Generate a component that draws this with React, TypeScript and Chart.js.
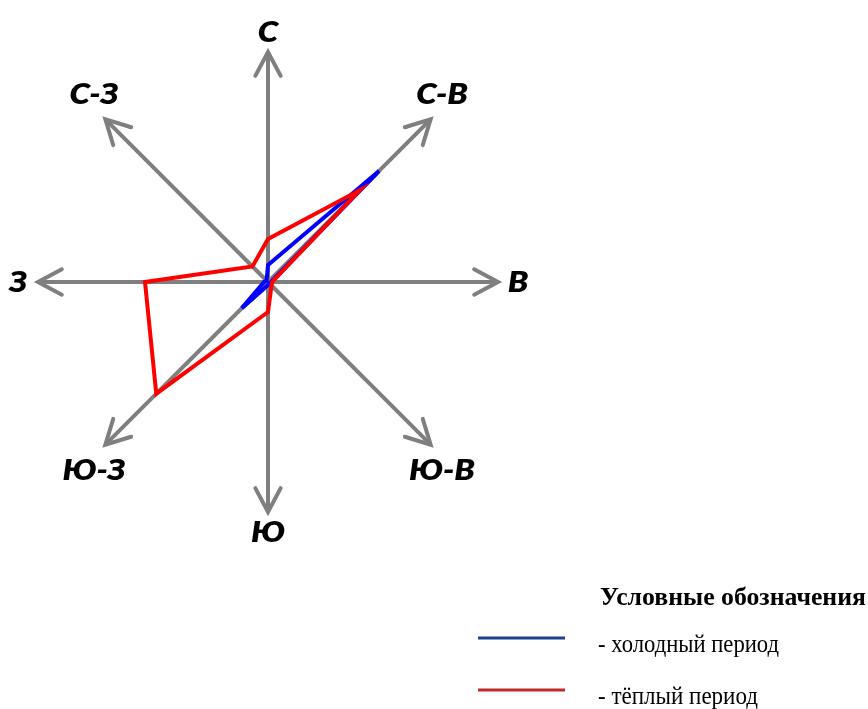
import React, { useEffect, useRef } from "react";
import { Chart, registerables } from "chart.js";

Chart.register(...registerables);

const directions = ["С", "С-В", "В", "Ю-В", "Ю", "Ю-З", "З", "С-З"];
const coldPeriod = [1.7, 15.7, 0.3, 0.2, 0.3, 3.7, 0.4, 0.2];
const warmPeriod = [4.3, 13.0, 0.4, 0.5, 3.0, 15.8, 12.3, 2.2];
const axisMax = 23;
const seriesNames = ["холодный период", "тёплый период"];
const legendTitle = "Условные обозначения";

const AXIS_COLOR = "#7f7f7f";

function fitText(ctx: CanvasRenderingContext2D, text: string, x: number, y: number, font: string, targetW: number) {
  ctx.font = font;
  const w = ctx.measureText(text).width;
  ctx.save();
  ctx.translate(x, y);
  ctx.scale(targetW / w, 1);
  ctx.textAlign = "left";
  ctx.textBaseline = "alphabetic";
  ctx.fillText(text, 0, 0);
  ctx.restore();
}

const windRosePlugin = {
  id: "windRose",
  afterDraw(chart: any) {
    const scale = chart.scales.r;
    const ctx: CanvasRenderingContext2D = chart.ctx;
    const cx = scale.xCenter;
    const cy = scale.yCenter;
    ctx.save();
    ctx.strokeStyle = AXIS_COLOR;
    ctx.lineWidth = 4;
    ctx.lineCap = "round";
    ctx.lineJoin = "miter";
    directions.forEach((d, i) => {
      const tip = scale.getPointPositionForValue(i, axisMax);
      const ang = Math.atan2(tip.y - cy, tip.x - cx);
      const L = 27;
      const a = (28 * Math.PI) / 180;
      ctx.beginPath();
      ctx.moveTo(tip.x - L * Math.cos(ang - a), tip.y - L * Math.sin(ang - a));
      ctx.lineTo(tip.x, tip.y);
      ctx.lineTo(tip.x - L * Math.cos(ang + a), tip.y - L * Math.sin(ang + a));
      ctx.stroke();

      const diag = i % 2 === 1;
      const pos = scale.getPointPositionForValue(i, axisMax + (diag ? 2.6 : 2.0));
      let lx = pos.x;
      let ly = pos.y + 1;
      if (diag) {
        lx -= Math.sign(pos.x - cx) * 7;
        ly += Math.sign(pos.y - cy) * 7;
      }
      ctx.save();
      ctx.translate(lx, ly);
      ctx.scale(1.18, 1);
      ctx.fillStyle = "#000";
      ctx.font = "italic 800 28px Lato, 'Open Sans', sans-serif";
      ctx.textAlign = "center";
      ctx.textBaseline = "middle";
      ctx.fillText(d, 0, 0);
      ctx.restore();
    });

    // legend
    ctx.fillStyle = "#000";
    fitText(ctx, legendTitle, 600, 605, "bold 25px 'Liberation Serif', serif", 266);
    const lineColors = ["#1f3f8f", "#c0282d"];
    const rowY = [638, 690];
    const textY = [652, 704];
    const textW = [181, 160];
    seriesNames.forEach((n, i) => {
      ctx.strokeStyle = lineColors[i];
      ctx.lineWidth = 3;
      ctx.lineCap = "butt";
      ctx.beginPath();
      ctx.moveTo(478, rowY[i]);
      ctx.lineTo(565, rowY[i]);
      ctx.stroke();
      ctx.fillStyle = "#000";
      fitText(ctx, "- " + n, 598, textY[i], "25px 'Liberation Serif', serif", textW[i]);
    });
    ctx.restore();
  },
};

export default function App() {
  const ref = useRef<HTMLCanvasElement>(null);
  useEffect(() => {
    if (!ref.current) return;
    const chart = new Chart(ref.current, {
      type: "radar",
      data: {
        labels: directions,
        datasets: [
          {
            label: seriesNames[1],
            data: warmPeriod,
            borderColor: "#ff0000",
            borderWidth: 4,
            fill: false,
            pointRadius: 0,
            pointHoverRadius: 0,
            borderJoinStyle: "miter",
          },
          {
            label: seriesNames[0],
            data: coldPeriod,
            borderColor: "#0000ff",
            borderWidth: 4,
            fill: false,
            pointRadius: 0,
            pointHoverRadius: 0,
            borderJoinStyle: "miter",
          },
        ],
      },
      options: {
        animation: false,
        responsive: false,
        devicePixelRatio: 1,
        layout: { padding: { left: 38, top: 52, right: 370, bottom: 197 } },
        plugins: { legend: { display: false }, tooltip: { enabled: false }, title: { display: false } },
        scales: {
          r: {
            min: 0,
            max: axisMax,
            ticks: { display: false },
            grid: { display: false },
            angleLines: { display: true, color: AXIS_COLOR, lineWidth: 4 },
            pointLabels: { display: false },
          },
        },
      },
      plugins: [windRosePlugin],
    } as any);
    return () => chart.destroy();
  }, []);
  return (
    <div style={{ position: "fixed", left: 0, top: 0, width: 868, height: 709, background: "#fff" }}>
      <canvas ref={ref} width={868} height={709} style={{ display: "block" }} />
    </div>
  );
}
